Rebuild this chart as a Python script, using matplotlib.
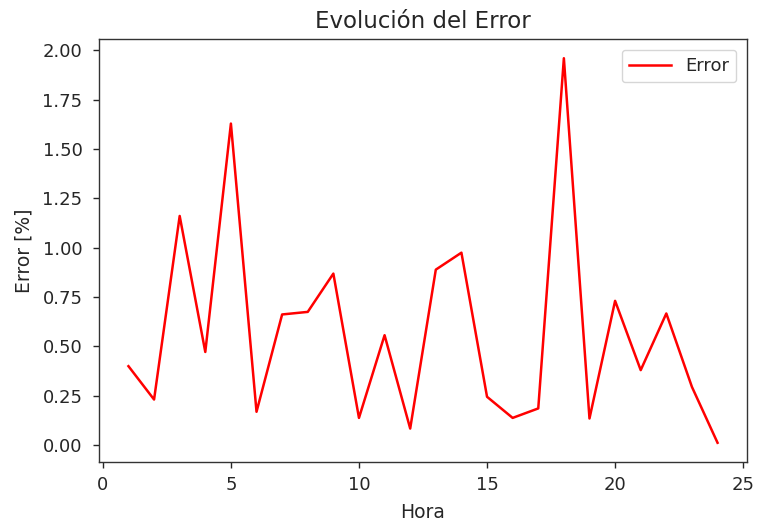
import matplotlib
matplotlib.use("Agg")
import matplotlib.pyplot as plt

hora = list(range(1, 25))
error = [0.40, 0.231, 1.161, 0.472, 1.629, 0.169, 0.662, 0.675, 0.869, 0.138,
         0.557, 0.084, 0.889, 0.975, 0.245, 0.138, 0.186, 1.96, 0.135, 0.731,
         0.380, 0.667, 0.295, 0.012]

plt.rcParams.update({
    "font.size": 13,
    "text.color": "#262626",
    "axes.labelcolor": "#262626",
    "xtick.color": "#262626",
    "ytick.color": "#262626",
    "axes.edgecolor": "#333333",
    "axes.linewidth": 1.0,
    "xtick.major.size": 4.3,
    "ytick.major.size": 4.3,
    "xtick.major.width": 1.0,
    "ytick.major.width": 1.0,
    "xtick.major.pad": 5.5,
    "ytick.major.pad": 7.5,
    "lines.linewidth": 1.8,
})

fig = plt.figure(figsize=(7.57, 5.27), dpi=100)
ax = fig.add_axes([99 / 757, 65 / 527, 648 / 757, 423 / 527])
ax.plot(hora, error, color="red", label="Error")
ax.set_title("Evolución del Error", fontsize=16.5, pad=8)
ax.set_xlabel("Hora", fontsize=13.5, labelpad=7)
ax.set_ylabel("Error [%]", fontsize=13.5, labelpad=6.5)
ax.set_yticks([0, 0.25, 0.5, 0.75, 1.0, 1.25, 1.5, 1.75, 2.0])
ax.legend(loc="upper right", fontsize=13, borderaxespad=0.6, handlelength=2.3)

fig.savefig("out.png", dpi=100)
